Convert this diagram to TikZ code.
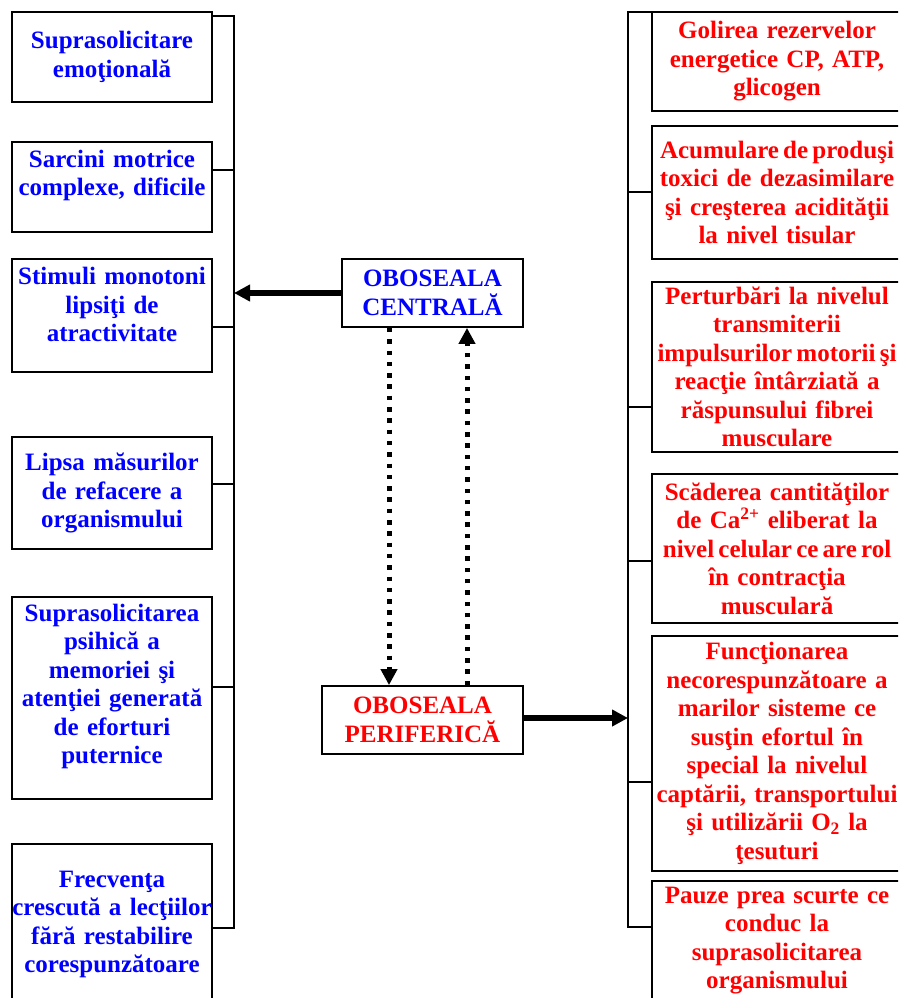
\documentclass[tikz,border=0pt]{standalone}
\usepackage{fontspec}
\newfontfamily\tnr{Liberation Serif}
\usetikzlibrary{arrows.meta}
\definecolor{tblue}{RGB}{0,0,255}
\definecolor{tred}{RGB}{255,0,0}
\newcommand{\wline}[1]{\makebox[\linewidth]{#1}}
\newcommand{\tline}[1]{\makebox[\linewidth]{\spaceskip=4.2pt\relax #1}}
\tikzset{
  boxbase/.style={draw=black, line width=1.8pt, fill=white, align=center, inner sep=1pt,
    font=\tnr\bfseries\fontsize{25}{28.5}\selectfont},
  lbox/.style={boxbase, text=tblue, minimum width=200pt, text width=196pt},
  rbox/.style={boxbase, text=tred, minimum width=250pt, text width=246pt},
  cbox/.style={boxbase, minimum height=68pt},
  conn/.style={line width=1.6pt, line join=miter},
  bigarrow/.style={line width=5.5pt, -{Triangle[length=16pt,width=16pt]}},
  dotarrow/.style={line width=5pt, dash pattern=on 4.5pt off 6.8pt, -{Triangle[length=16pt,width=16pt]}}
}
\begin{document}
\begin{tikzpicture}[x=1pt, y=-1pt]
\useasboundingbox (0,0) rectangle (898,998);
\clip (0,0) rectangle (898,998);
% left boxes
\node[lbox, minimum height=90pt]  (l1) at (112,57)    {Suprasolicitare\\emoţională};
\node[lbox, minimum height=90pt]  (l2) at (112,187)   {Sarcini motrice\\complexe, dificile\\\mbox{}};
\node[lbox, minimum height=113pt] (l3) at (112,315.5) {\rule{0pt}{24pt}Stimuli monotoni\\lipsiţi de\\atractivitate\\\mbox{}};
\node[lbox, minimum height=112pt] (l4) at (112,493)   {Lipsa măsurilor\\de refacere a\\organismului};
\node[lbox, minimum height=202pt] (l5) at (112,698)   {Suprasolicitarea\\psihică a\\memoriei şi\\atenţiei generată\\de eforturi\\puternice\\\mbox{}};
\node[lbox, minimum height=161pt] (l6) at (112,924.5) {Frecvenţa\\\wline{crescută a lecţiilor}\\fără restabilire\\corespunzătoare};
% right boxes
\node[rbox, minimum height=99pt]  (r1) at (777,61.5)  {Golirea rezervelor\\energetice CP, ATP,\\glicogen};
\node[rbox, minimum height=133pt] (r2) at (777,192.5) {\tline{Acumulare de produşi}\\\wline{toxici de dezasimilare}\\\wline{şi creşterea acidităţii}\\la nivel tisular};
\node[rbox, minimum height=170pt] (r3) at (777,367)   {Perturbări la nivelul\\transmiterii\\\tline{impulsurilor motorii şi}\\reacţie întârziată a\\răspunsului fibrei\\musculare};
\node[rbox, minimum height=149pt] (r4) at (777,548.5) {\wline{Scăderea cantităţilor}\\\wline{de Ca\textsuperscript{2+} eliberat la}\\\tline{nivel celular ce are rol}\\în contracţia\\musculară};
\node[rbox, minimum height=235pt] (r5) at (777,753.5) {Funcţionarea\\necorespunzătoare a\\marilor sisteme ce\\susţin efortul în\\special la nivelul\\\wline{captării, transportului}\\şi utilizării O\textsubscript{2} la\\ţesuturi};
\node[rbox, minimum height=119pt] (r6) at (777,940.5) {Pauze prea scurte ce\\conduc la\\suprasolicitarea\\organismului};
% central boxes
\node[cbox, text=tblue, minimum width=181pt] (cen) at (432.5,293) {OBOSEALA\\CENTRALĂ};
\node[cbox, text=tred, minimum width=201pt]  (per) at (422.5,720) {OBOSEALA\\PERIFERICĂ};
% left bus
\coordinate (lt) at (234,16);
\coordinate (lb) at (234,928);
\coordinate (lb2) at (234,170);
\coordinate (lb3) at (234,327);
\coordinate (lb4) at (234,484);
\coordinate (lb5) at (234,687);
\draw[conn] (l1.east |- lt) -- (lt) -- (lb) -- (l6.east |- lb);
\draw[conn] (l2.east |- lb2) -- (lb2);
\draw[conn] (l3.east |- lb3) -- (lb3);
\draw[conn] (l4.east |- lb4) -- (lb4);
\draw[conn] (l5.east |- lb5) -- (lb5);
% right bus
\coordinate (rt) at (628,12);
\coordinate (rb) at (628,927);
\coordinate (rb2) at (628,192);
\coordinate (rb3) at (628,407);
\coordinate (rb4) at (628,561);
\coordinate (rb5) at (628,782);
\draw[conn] (r1.west |- rt) -- (rt) -- (rb) -- (r6.west |- rb);
\draw[conn] (r2.west |- rb2) -- (rb2);
\draw[conn] (r3.west |- rb3) -- (rb3);
\draw[conn] (r4.west |- rb4) -- (rb4);
\draw[conn] (r5.west |- rb5) -- (rb5);
% main arrows
\draw[bigarrow] (cen.west) -- (cen.west -| lt);
\draw[bigarrow] (per.east |- 0,718) -- (rt |- 0,718);
% dotted arrows
\coordinate (dx1) at (389,0);
\coordinate (dx2) at (467,0);
\draw[dotarrow] (cen.south -| dx1) -- (per.north -| dx1);
\draw[dotarrow] (per.north -| dx2) -- (cen.south -| dx2);
\end{tikzpicture}
\end{document}
